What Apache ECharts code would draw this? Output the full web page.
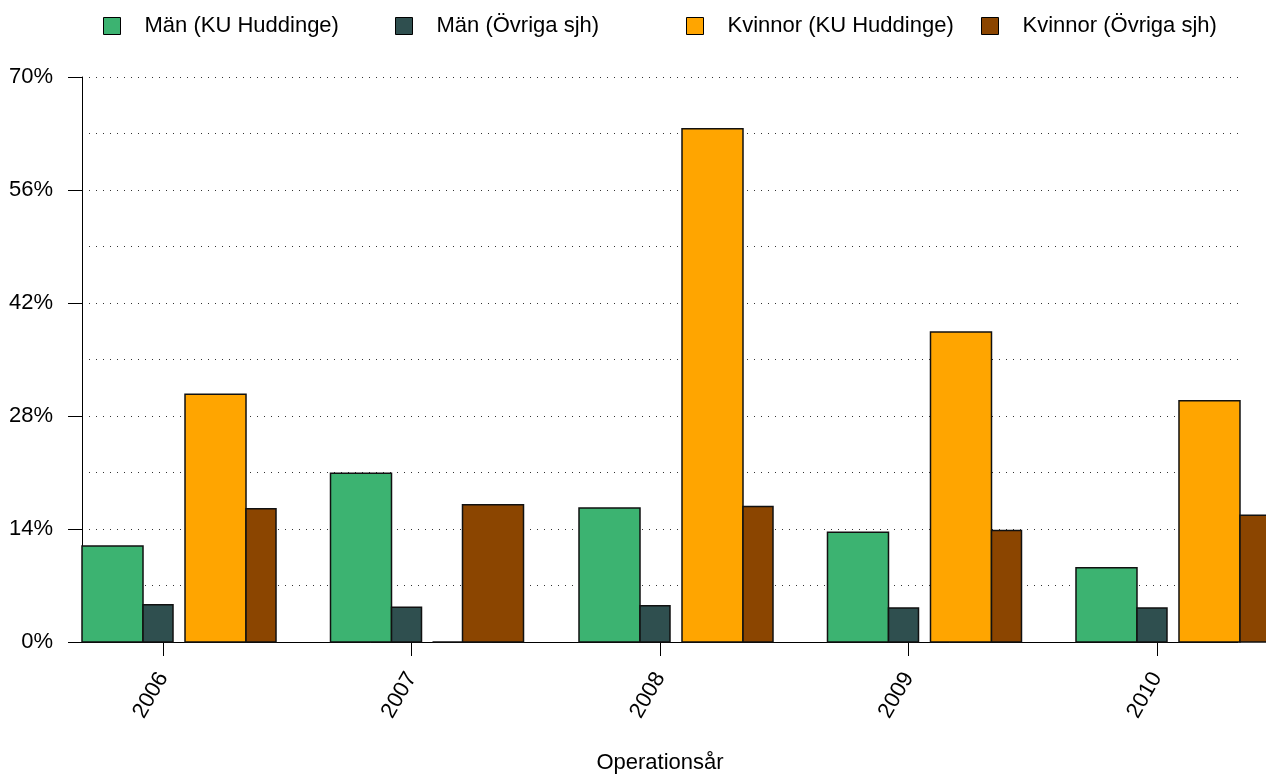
<!DOCTYPE html>
<html><head><meta charset="utf-8">
<script src="https://cdn.jsdelivr.net/npm/echarts@6/dist/echarts.min.js"></script>
<style>html,body{margin:0;padding:0;background:#fff}#c{width:1266px;height:774px}</style>
</head><body><div id="c"></div>
<script>
const years = ['2006', '2007', '2008', '2009', '2010'];
const seriesNames = ['Män (KU Huddinge)', 'Män (Övriga sjh)', 'Kvinnor (KU Huddinge)', 'Kvinnor (Övriga sjh)'];
const manKU = [11.9, 20.9, 16.6, 13.6, 9.2];
const manOvr = [4.6, 4.3, 4.5, 4.2, 4.2];
const kvKU = [30.7, 0, 63.6, 38.4, 29.9];
const kvOvr = [16.5, 17.0, 16.8, 13.8, 15.7];
const yTicks = [0, 14, 28, 42, 56, 70];

const colors = ['#3CB371', '#2F4F4F', '#FFA500', '#8B4500'];
// bar slots relative to the category tick (px): [left, right]
const barSlots = [[-81, -20], [-20, 10], [22, 83], [83, 113]];
const barSlotsIfKvKUZero = {2: [21, 81], 3: [51, 112]};
const FONT = 'Liberation Sans, Arial, sans-serif';

const allValues = [manKU, manOvr, kvKU, kvOvr];

function makeRender(si) {
  return function (params, api) {
    const i = api.value(0), v = api.value(1);
    let slot = barSlots[si];
    if (kvKU[i] === 0 && barSlotsIfKvKUZero[si]) slot = barSlotsIfKvKUZero[si];
    const base = api.coord([i, 0]);
    const top = api.coord([i, v]);
    return {
      type: 'rect',
      shape: {x: base[0] + slot[0], y: top[1], width: slot[1] - slot[0], height: base[1] - top[1]},
      style: {fill: colors[si], stroke: '#111', lineWidth: 1.5}
    };
  };
}

const legendLeft = [98, 390, 681, 976];
const dotted = {color: '#333', width: 1, type: [1, 6]};

const chart = echarts.init(document.getElementById('c'), null, {renderer: 'canvas'});
chart.setOption({
  backgroundColor: '#fff',
  animation: false,
  textStyle: {fontFamily: FONT},
  legend: seriesNames.map((n, k) => ({
    data: [{name: n, itemStyle: {color: colors[k], borderColor: '#000', borderWidth: 1}}],
    left: legendLeft[k], top: 10,
    itemWidth: 17, itemHeight: 17, icon: 'rect',
    selectedMode: false,
    textStyle: {fontSize: 22, color: '#000', fontFamily: FONT, padding: [0, 0, 0, 19]}
  })),
  grid: {left: 82, right: 28, top: 77, bottom: 132, containLabel: false, outerBoundsMode: 'none'},
  xAxis: {
    type: 'value', min: -0.326, max: 4.326,
    name: 'Operationsår', nameLocation: 'middle', nameGap: 110,
    nameTextStyle: {fontSize: 22, color: '#000', fontFamily: FONT},
    axisLine: {show: true, onZero: false, lineStyle: {color: '#000', width: 1}},
    axisTick: {show: true, customValues: [0, 1, 2, 3, 4], length: 14, lineStyle: {color: '#000', width: 1}},
    axisLabel: {customValues: [0, 1, 2, 3, 4], formatter: v => years[Math.round(v)], rotate: 60, margin: 32,
      fontSize: 22, color: '#000', fontFamily: FONT},
    splitLine: {show: false}
  },
  yAxis: {
    type: 'value', min: 0, max: 70, interval: 14,
    axisLine: {show: true, onZero: false, lineStyle: {color: '#000', width: 1}},
    axisTick: {show: true, length: 14, lineStyle: {color: '#000', width: 1}},
    axisLabel: {formatter: '{value}%', margin: 29, fontSize: 22, color: '#000', fontFamily: FONT},
    splitLine: {show: true, lineStyle: dotted},
    minorTick: {show: false, splitNumber: 2},
    minorSplitLine: {show: true, lineStyle: dotted}
  },
  series: allValues.map((vals, si) => ({
    type: 'custom', name: seriesNames[si], clip: false,
    itemStyle: {color: colors[si]},
    renderItem: makeRender(si),
    encode: {x: 0, y: 1},
    data: vals.map((v, i) => [i, v])
  }))
});
</script></body></html>
